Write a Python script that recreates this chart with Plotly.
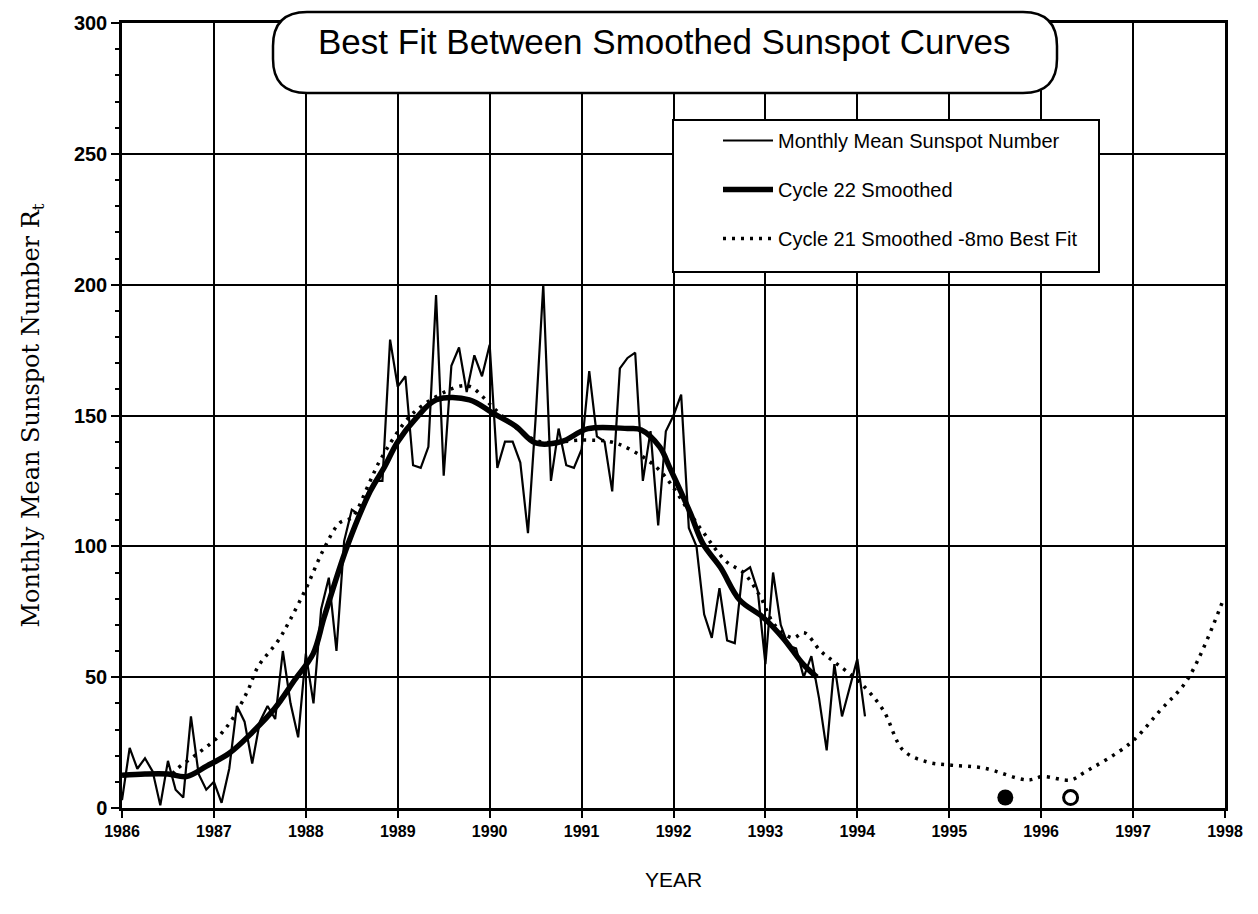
import plotly.graph_objects as go

# ---------------- data ----------------
monthly_start_year = 1986
monthly_values = [
    3, 23, 15, 19, 14, 1, 18, 7, 4, 35, 13, 7,            # 1986
    10, 2, 15, 39, 33, 17, 33, 39, 34, 60, 40, 27,        # 1987
    59, 40, 76, 88, 60, 102, 114, 112, 120, 125, 125, 179,  # 1988
    161, 165, 131, 130, 138, 196, 127, 169, 176, 159, 173, 165,  # 1989
    177, 130, 140, 140, 132, 105, 149, 200, 125, 145, 131, 130,  # 1990
    137, 167, 142, 140, 121, 168, 172, 174, 125, 144, 108, 144,  # 1991
    150, 158, 107, 100, 74, 65, 84, 64, 63, 90, 92, 83,   # 1992
    55, 90, 70, 62, 61, 50, 58, 42, 22, 55, 35, 46,       # 1993
    57, 35,                                               # 1994
]
monthly_years = [monthly_start_year + i / 12 for i in range(len(monthly_values))]

c22_years = [1986.0, 1986.25, 1986.5, 1986.7, 1986.92, 1987.17, 1987.42, 1987.66,
             1987.88, 1988.08, 1988.2, 1988.45, 1988.7, 1988.85, 1989.0, 1989.2,
             1989.42, 1989.78, 1990.03, 1990.28, 1990.5, 1990.78, 1991.07, 1991.5,
             1991.65, 1991.85, 1991.96, 1992.18, 1992.32, 1992.51, 1992.72, 1992.97,
             1993.19, 1993.41, 1993.56]
c22_values = [12.5, 13, 13, 12, 16, 21, 29, 38,
              49, 59, 73, 100, 121, 130, 140, 149,
              156, 156, 151, 146, 139.5, 140, 145, 145,
              144.5, 138, 130, 113, 101, 92, 79.5, 73,
              65, 55, 50]

c21_years = [1986.55, 1986.6, 1986.83, 1987.04, 1987.2, 1987.37, 1987.48, 1987.7,
             1987.83, 1988.01, 1988.19, 1988.37, 1988.5, 1988.7, 1988.81, 1989.17,
             1989.65, 1989.79, 1989.93, 1990.04, 1990.3, 1990.55, 1991.02, 1991.31,
             1991.53, 1991.85, 1992.29, 1992.58, 1992.76, 1992.94, 1993.1, 1993.3,
             1993.42, 1993.6, 1993.78, 1994.03, 1994.28, 1994.5, 1994.76, 1995.01,
             1995.37, 1995.85, 1996.02, 1996.32, 1996.46, 1996.97, 1997.3, 1997.59,
             1997.98]
c21_values = [13, 15, 21, 27, 34, 45, 54, 64,
              72, 84.5, 98.6, 109, 111, 125, 133, 151,
              161, 161, 157, 153, 145, 140, 140.6, 140,
              137, 129, 107, 94, 90, 81, 70, 65,
              67, 60, 55, 48, 37.5, 22, 17.6, 16.4,
              15.3, 10.7, 12, 10.7, 13.4, 24.8, 37.5, 49,
              79.5]

minimum_filled = (1995.61, 4)
minimum_open = (1996.32, 4)

x_ticks = list(range(1986, 1999))
y_ticks = [0, 50, 100, 150, 200, 250, 300]

title_text = "Best Fit Between Smoothed Sunspot Curves"
legend_names = ["Monthly Mean Sunspot Number", "Cycle 22 Smoothed",
                "Cycle 21 Smoothed -8mo Best Fit"]

# ---------------- figure ----------------
fig = go.Figure()

fig.add_trace(go.Scatter(x=monthly_years, y=monthly_values, mode="lines",
                         name=legend_names[0], legendgroup="a",
                         line=dict(color="black", width=2.2)))
fig.add_trace(go.Scatter(x=c22_years, y=c22_values, mode="lines",
                         name=legend_names[1], legendgroup="b",
                         line=dict(color="black", width=5.5, shape="spline")))
fig.add_trace(go.Scatter(x=c21_years, y=c21_values, mode="lines",
                         name=legend_names[2], legendgroup="c",
                         line=dict(color="black", width=3.5, dash="3px,6px",
                                   shape="spline")))
fig.add_trace(go.Scatter(x=[minimum_filled[0]], y=[minimum_filled[1]], mode="markers",
                         showlegend=False,
                         marker=dict(size=16, color="black", symbol="circle")))
fig.add_trace(go.Scatter(x=[minimum_open[0]], y=[minimum_open[1]], mode="markers",
                         showlegend=False,
                         marker=dict(size=14, color="white", symbol="circle",
                                     line=dict(color="black", width=3))))

# page has an 8px body margin; plot area wanted at page px x 122..1225, y 23..808
W, H = 1250, 906
L, T = 114, 15
pw, ph = 1103, 785
R = W - L - pw
B = H - T - ph
PX0, PY0 = 122, 808


def px2paper(px, py):
    return (px - PX0) / pw, (PY0 - py) / ph


# rounded title box
x0, y1 = px2paper(273, 12)
x1, y0 = px2paper(1057, 93)
rx, ry = 34 / pw, 34 / ph
path = (f"M{x0+rx},{y1} L{x1-rx},{y1} Q{x1},{y1} {x1},{y1-ry} "
        f"L{x1},{y0+ry} Q{x1},{y0} {x1-rx},{y0} L{x0+rx},{y0} "
        f"Q{x0},{y0} {x0},{y0+ry} L{x0},{y1-ry} Q{x0},{y1} {x0+rx},{y1} Z")
fig.add_shape(type="path", path=path, xref="paper", yref="paper",
              line=dict(color="black", width=2.5), fillcolor="white", layer="above")
tx, ty = px2paper(664, 41)
fig.add_annotation(text=title_text, x=tx, y=ty, xref="paper", yref="paper",
                   showarrow=False, xanchor="center", yanchor="middle",
                   font=dict(family="Liberation Sans, Arial", size=35, color="black"))

# legend box
lx0, ly1 = px2paper(673, 120)
lx1, ly0 = px2paper(1099, 272)
fig.add_shape(type="rect", x0=lx0, x1=lx1, y0=ly0, y1=ly1, xref="paper", yref="paper",
              line=dict(color="black", width=2), fillcolor="white", layer="above")

legx, legy = px2paper(718, 121)

fig.update_layout(
    width=W, height=H,
    margin=dict(l=L, r=R, t=T, b=B, autoexpand=False),
    paper_bgcolor="white", plot_bgcolor="white",
    showlegend=True,
    legend=dict(x=legx, y=legy, xanchor="left", yanchor="top",
                bgcolor="rgba(0,0,0,0)", borderwidth=0,
                tracegroupgap=20, itemwidth=50,
                font=dict(family="Liberation Sans, Arial", size=20, color="black")),
    font=dict(color="black"),
)

fig.update_xaxes(
    range=[1986, 1998], tickvals=x_ticks, ticktext=[f"<b>{v}</b>" for v in x_ticks],
    showgrid=True, gridcolor="black", gridwidth=2.2,
    showline=True, linecolor="black", linewidth=3, mirror=True,
    ticks="outside", ticklen=7, tickwidth=2, tickcolor="black",
    tickfont=dict(family="Liberation Sans, Arial", size=16, color="black"),
    title=dict(text="YEAR", font=dict(family="Liberation Sans, Arial", size=21, color="black"),
               standoff=34),
    zeroline=False,
)
fig.update_yaxes(
    range=[0, 300], tickvals=y_ticks, ticktext=[f"<b>{v}</b>" for v in y_ticks],
    showgrid=True, gridcolor="black", gridwidth=2.2,
    showline=True, linecolor="black", linewidth=2.5, mirror=True,
    ticks="outside", ticklen=8, tickwidth=2, tickcolor="black",
    minor=dict(dtick=10, ticks="outside", ticklen=4, tickwidth=2, tickcolor="black",
               showgrid=False),
    tickfont=dict(family="Liberation Sans, Arial", size=20, color="black"),
    title=dict(text="Monthly Mean Sunspot Number R<sub>t</sub>",
               font=dict(family="DejaVu Serif, Liberation Serif, serif", size=24, color="black"),
               standoff=28),
    zeroline=False,
)

fig.write_html("out.html")
